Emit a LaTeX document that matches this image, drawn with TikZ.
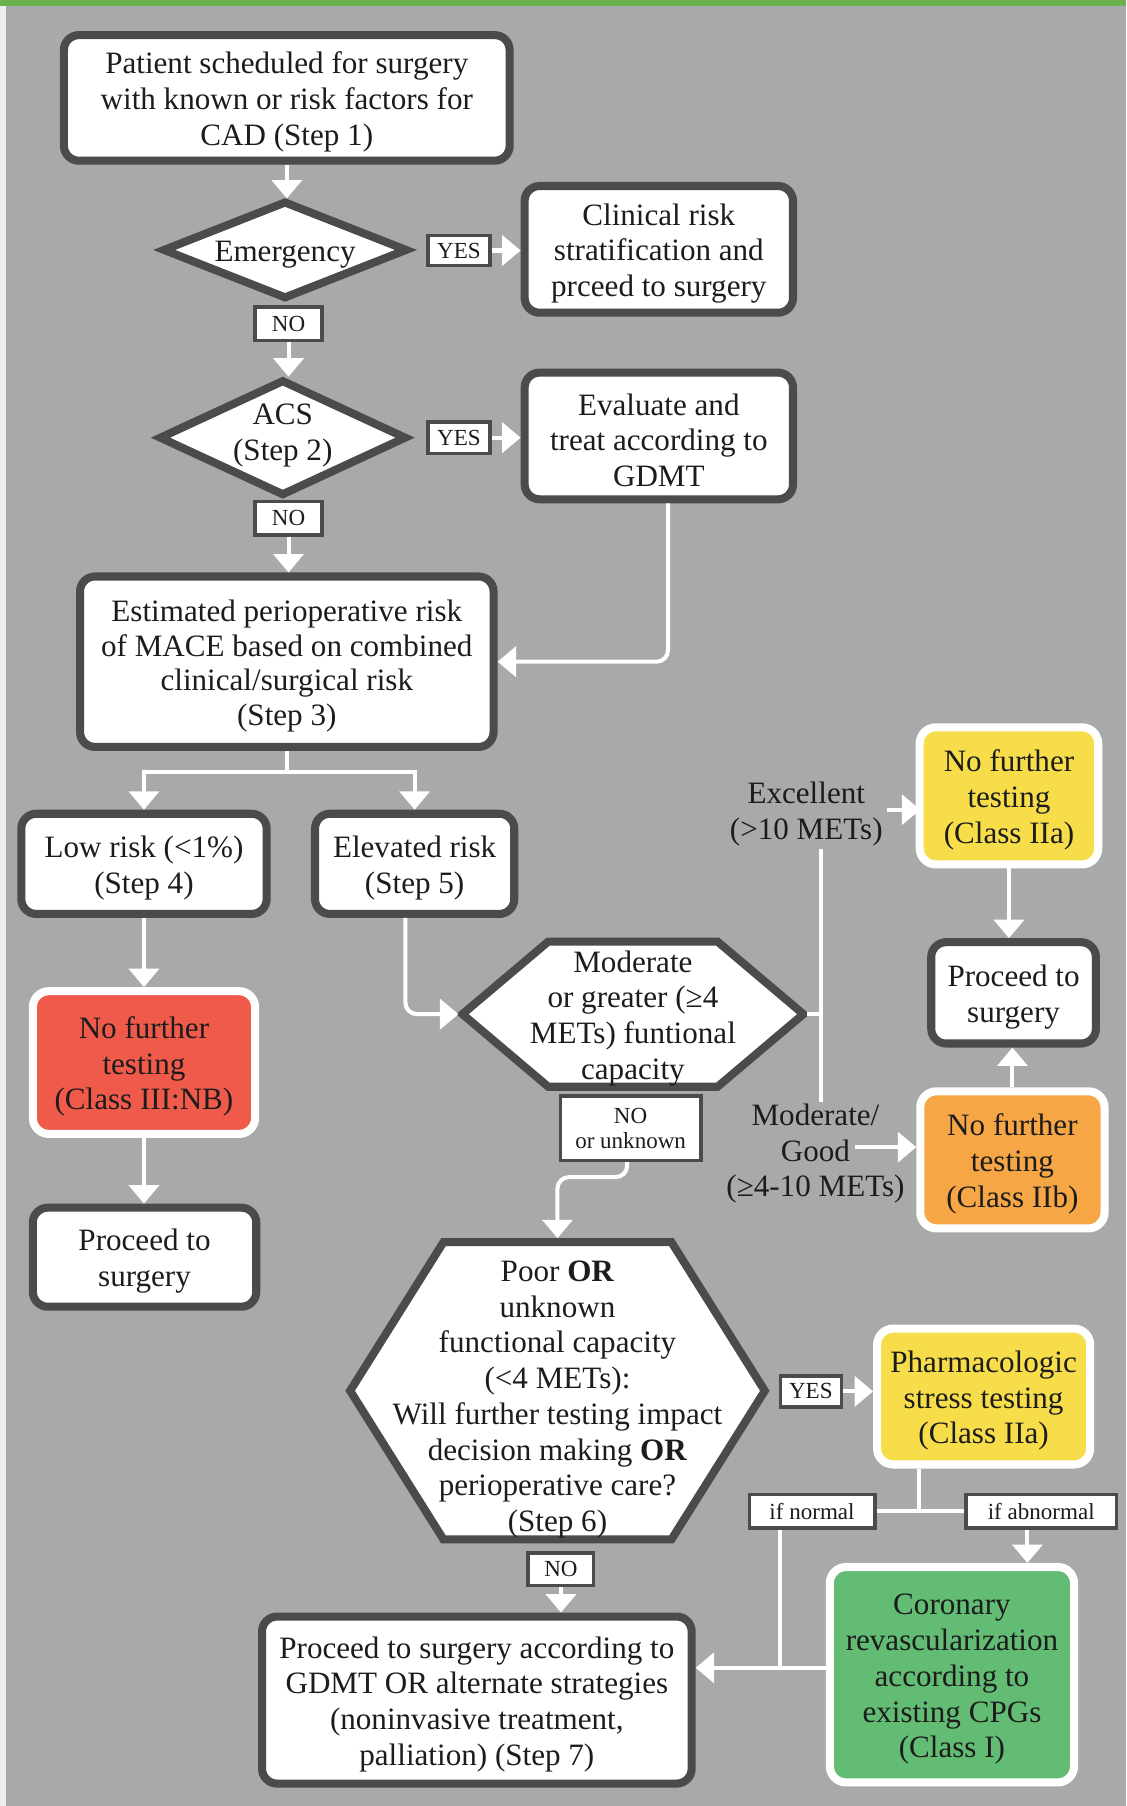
\documentclass[tikz,border=0pt]{standalone}
\usepackage{fontspec}
\setmainfont{Liberation Serif}
\usetikzlibrary{arrows.meta,calc}
\definecolor{bg}{HTML}{A8A9AB}
\definecolor{dborder}{HTML}{4B4B4D}
\definecolor{topgreen}{HTML}{6AB04C}
\definecolor{redbox}{HTML}{F05A4B}
\definecolor{yelbox}{HTML}{F8DD4B}
\definecolor{orgbox}{HTML}{F6A645}
\definecolor{grnbox}{HTML}{62BC74}
\definecolor{txt}{HTML}{1C1C1C}
\newcommand{\mainsize}{\fontsize{27}{31}\selectfont}
\newcommand{\lblsize}{\fontsize{20}{22}\selectfont}
\newcommand{\dn}{\rule{0pt}{26pt}}
\begin{document}
\begin{tikzpicture}[x=1pt,y=-1pt,
 darkbox/.style={draw=dborder, line width=7pt, fill=white, rounded corners=13pt, align=center, font=\mainsize, text=txt, inner sep=0pt},
 colbox/.style={draw=white, line width=7pt, rounded corners=14pt, align=center, font=\mainsize, text=txt, inner sep=0pt},
 lbl/.style={draw=dborder, line width=3pt, fill=white, font=\lblsize, text=txt, inner sep=0pt, align=center},
 conn/.style={draw=white, line width=3.5pt},
 arr/.style={conn, -{Triangle[width=26pt,length=16pt]}},
 freetext/.style={font=\mainsize, text=txt, align=center, inner sep=0pt},
 hextext/.style={inner sep=0pt, outer sep=3.5pt, font=\mainsize, text=txt, align=center},
 hexline/.style={draw=dborder, line width=7pt, fill=white, line join=miter},
]
\useasboundingbox (0,0) rectangle (978,1568);
\fill[bg] (0,0) rectangle (978,1568);
\fill[white!80!bg] (0,0) rectangle (5,1568);
\fill[topgreen] (0,0) rectangle (978,5);

% top part
\node[darkbox, minimum width=387pt, minimum height=109pt] (s1) at (249,85) {\dn Patient scheduled for surgery\\with known or risk factors for\\CAD (Step 1)};
\path[hexline] (142.5,217) -- (247.5,175.8) -- (352.5,217) -- (247.5,258.2) -- cycle;
\node[hextext, minimum width=210pt, minimum height=82.4pt] (emerg) at (247.5,217) {\dn Emergency};
\node[lbl, minimum width=54pt, minimum height=26pt] (yes1) at (398.5,217.5) {YES};
\node[darkbox, minimum width=233pt, minimum height=110pt] (clin) at (572,216.5) {\dn Clinical risk\\stratification and\\prceed to surgery};
\node[lbl, minimum width=58pt, minimum height=29pt] (no1) at (250.5,281) {NO};
\path[hexline] (139.3,380) -- (245.5,330.9) -- (351.7,380) -- (245.5,429.1) -- cycle;
\node[hextext, minimum width=212.4pt, minimum height=98.2pt] (acs) at (245.5,378) {ACS\\(Step 2)};
\node[lbl, minimum width=54pt, minimum height=27pt] (yes2) at (398.5,380) {YES};
\node[darkbox, minimum width=233pt, minimum height=110pt] (eval) at (572,378.5) {\dn Evaluate and\\treat according to\\GDMT};
\node[lbl, minimum width=58pt, minimum height=29pt] (no2) at (250.5,450) {NO};
\node[darkbox, minimum width=359pt, minimum height=148pt, font=\fontsize{27}{30}\selectfont] (s3) at (249,574.5) {\dn Estimated perioperative risk\\of MACE based on combined\\clinical/surgical risk\\(Step 3)};

% left column
\node[darkbox, minimum width=213pt, minimum height=87pt] (low) at (125,750) {\dn Low risk (<1\%)\\(Step 4)};
\node[darkbox, minimum width=173pt, minimum height=87pt] (elev) at (360,750) {\dn Elevated risk\\(Step 5)};
\node[colbox, fill=redbox, minimum width=193pt, minimum height=124pt] (nft1) at (125,922.5) {\dn No further\\testing\\(Class III:NB)};
\node[darkbox, minimum width=194pt, minimum height=86pt] (proc1) at (125.5,1091.5) {\dn Proceed to\\surgery};

% hexagon 1
\path[hexline] (401.5,880.5) -- (476,817.5) -- (623,817.5) -- (697.5,880.5) -- (623,943.5) -- (476,943.5) -- cycle;
\node[hextext, minimum width=296pt, minimum height=126pt] (mod) at (549.5,880.5) {\dn Moderate\\or greater (≥4\\METs) funtional\\capacity};
\node[lbl, minimum width=122pt, minimum height=56pt] (nounk) at (547.5,979.5) {NO\\or unknown};

% right column
\node[freetext] (exc) at (700,703) {\dn Excellent\\(>10 METs)};
\node[colbox, fill=yelbox, minimum width=155pt, minimum height=119pt] (nft2) at (876,691) {\dn No further\\testing\\(Class IIa)};
\node[darkbox, minimum width=143pt, minimum height=88pt] (proc2) at (880,862) {\dn Proceed to\\surgery};
\node[colbox, fill=orgbox, minimum width=160pt, minimum height=119pt] (nft3) at (879,1007) {\dn No further\\testing\\(Class IIb)};
\node[freetext] (modg) at (708,998) {\dn Moderate/\\Good\\(≥4-10 METs)};

% hexagon 2
\path[hexline] (304,1207.5) -- (385,1078.5) -- (583,1078.5) -- (664,1207.5) -- (583,1336.5) -- (385,1336.5) -- cycle;
\node[hextext, minimum width=360pt, minimum height=258pt] (poor) at (484,1207.5) {\rule{0pt}{33pt}Poor \textbf{OR}\\unknown\\functional capacity\\(<4 METs):\\Will further testing impact\\decision making \textbf{OR}\\perioperative care?\\(Step 6)};
\node[lbl, minimum width=53pt, minimum height=27pt] (yes3) at (704,1208) {YES};
\node[colbox, fill=yelbox, minimum width=185pt, minimum height=118pt] (pharm) at (854,1212.5) {\dn Pharmacologic\\stress testing\\(Class IIa)};
\node[lbl, minimum width=109pt, minimum height=29pt] (ifn) at (705,1312) {if normal};
\node[lbl, minimum width=131pt, minimum height=29pt] (ifa) at (904,1312) {if abnormal};
\node[colbox, fill=grnbox, minimum width=212pt, minimum height=187pt] (cor) at (826.5,1454) {\dn Coronary\\revascularization\\according to\\existing CPGs\\(Class I)};
\node[lbl, minimum width=57pt, minimum height=28pt] (no3) at (487,1362.5) {NO};
\node[darkbox, minimum width=373pt, minimum height=145pt] (s7) at (414,1476) {\dn Proceed to surgery according to\\GDMT OR alternate strategies\\(noninvasive treatment,\\palliation) (Step 7)};

% connectors
\draw[arr] (s1.south) -- (s1.south |- emerg.north);
\draw[arr] (yes1.east) -- (yes1.east -| clin.west);
\draw[arr] (no1.south) -- (no1.south |- 0,327);
\draw[arr] (yes2.east) -- (yes2.east -| eval.west);
\draw[arr] (no2.south) -- (no2.south |- s3.north);
\draw[arr, rounded corners=10pt] ([xshift=8pt]eval.south) |- (s3.east);
\coordinate (split) at (249,670);
\draw[conn] (s3.south) -- (split);
\draw[arr] (split) -| (low.north);
\draw[arr] (split) -| (elev.north);
\draw[arr] (low.south) -- (nft1.north);
\draw[arr] (nft1.south) -- (nft1.south |- proc1.north);
\draw[arr, rounded corners=10pt] ([xshift=-8pt]elev.south) |- (mod.west);
\draw[arr, rounded corners=10pt] ([xshift=-3pt]nounk.south) -- ++(0,13) -| (poor.north);
\coordinate (vt) at (713,737);
\coordinate (vb) at (713,957);
\draw[conn] (vt) -- (vb);
\draw[conn] (mod.east) -- (mod.east -| vt);
\draw[arr] ([xshift=4pt]exc.east) -- ([xshift=4pt]exc.east -| nft2.west);
\draw[arr] (nft2.south) -- (nft2.south |- proc2.north);
\draw[arr] (nft3.north) -- (nft3.north |- proc2.south);
\coordinate (goodend) at (742,996);
\draw[arr] (goodend) -- (goodend -| nft3.west);
\draw[arr] (yes3.east) -- (yes3.east -| pharm.west);
\coordinate (psplit) at (798,1311);
\draw[conn] (pharm.south -| psplit) -- (psplit);
\draw[conn] (ifn.east) -- (ifa.west);
\coordinate (jn) at (677,1448);
\draw[conn] (ifn.south -| jn) -- (jn);
\draw[arr] (cor.west |- jn) -- (s7.east |- jn);
\draw[arr] ([xshift=-12pt]ifa.south) -- ([xshift=-12pt]ifa.south |- cor.north);
\draw[arr] (no3.south) -- (no3.south |- s7.north);
\end{tikzpicture}
\end{document}
